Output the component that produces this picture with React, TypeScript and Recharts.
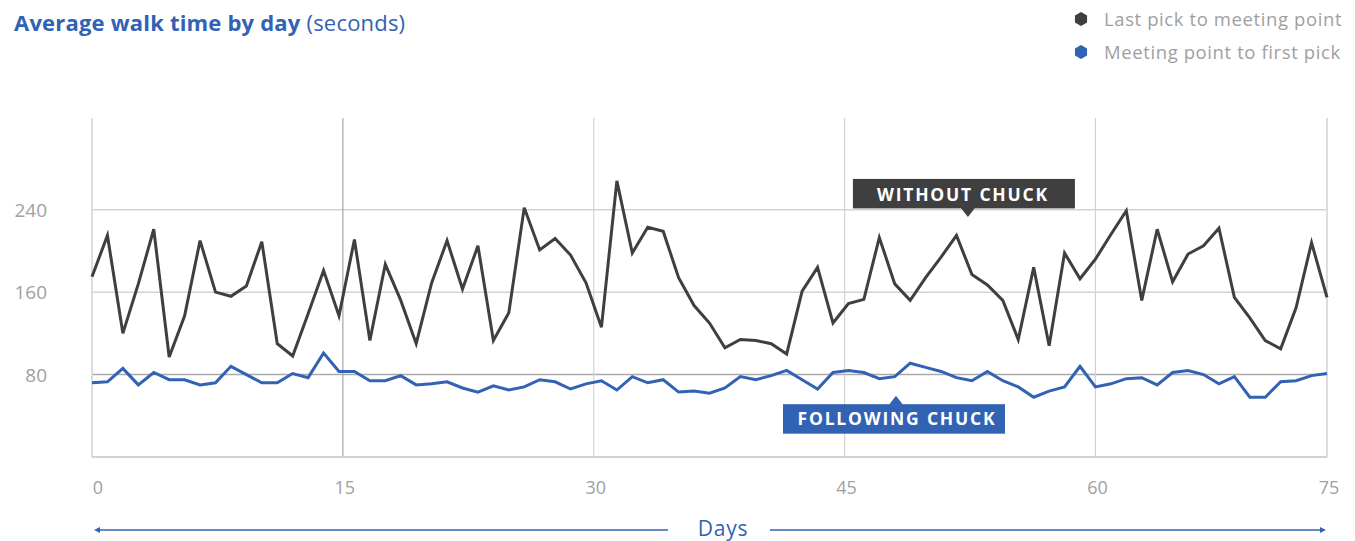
import React from 'react';
import { LineChart, Line, XAxis, YAxis, ReferenceLine, ReferenceDot } from 'recharts';

// seconds per day
const withoutChuck = [
  175, 215, 120, 168, 221, 97, 137, 210, 160, 156, 166, 209, 110, 98, 139, 181, 137, 211, 113, 187,
  152, 110, 169, 210, 163, 205, 113, 140, 242, 201, 212, 196, 169, 126, 268, 198, 223, 219, 174, 147,
  130, 106, 114, 113, 110, 100, 161, 184, 130, 149, 153, 213, 168, 152, 174, 194, 215, 177, 167, 152,
  114, 184, 108, 198, 173, 192, 216, 239, 152, 221, 170, 197, 205, 222, 155, 135, 113, 105, 145, 208,
  155,
];
const followingChuck = [
  72, 73, 86, 70, 82, 75, 75, 70, 72, 88, 80, 72, 72, 81, 77, 101, 83, 83, 74, 74,
  79, 70, 71, 73, 67, 63, 69, 65, 68, 75, 73, 66, 71, 74, 65, 78, 72, 75, 63, 64,
  62, 67, 78, 75, 79, 84, 75, 66, 82, 84, 82, 76, 78, 91, 87, 83, 77, 74, 83, 74,
  68, 58, 64, 68, 88, 68, 71, 76, 77, 70, 82, 84, 80, 71, 78, 58, 58, 73, 74, 79,
  81,
];
const xTickPos = [0, 16.25, 32.5, 48.75, 65, 80];
const xTickLabels = ['0', '15', '30', '45', '60', '75'];
const yTicks = [80, 160, 240];
const seriesNames = ['Last pick to meeting point', 'Meeting point to first pick'];

const DARK = '#3f3f40';
const BLUE = '#3162b3';
const GRAY_TEXT = '#a0a0a0';
const FONT = '"Open Sans", sans-serif';

const data = withoutChuck.map((v, i) => ({ i, without: v, following: followingChuck[i] }));

const XTick = (props: any) => {
  const { x, payload, index } = props;
  const label = xTickLabels[xTickPos.indexOf(payload.value)];
  return (
    <text x={index === 0 ? x + 6 : x + 2} y={494} textAnchor="middle" fontSize={18} fill={GRAY_TEXT} fontFamily={FONT}>
      {label}
    </text>
  );
};

const YTick = (props: any) => {
  const { y, payload } = props;
  return (
    <text x={47} y={y + 7} textAnchor="end" fontSize={19} fill={GRAY_TEXT} fontFamily={FONT}>
      {payload.value}
    </text>
  );
};

const DaysLabel = () => (
  <g>
    <line x1={98} y1={530} x2={668} y2={530} stroke={BLUE} strokeWidth={1.3} />
    <line x1={770} y1={530} x2={1322} y2={530} stroke={BLUE} strokeWidth={1.3} />
    <polygon points="94,530 100,527 100,533" fill={BLUE} />
    <polygon points="1326,530 1320,527 1320,533" fill={BLUE} />
    <text x={723} y={536} textAnchor="middle" fontSize={21} letterSpacing={0.8} fill={BLUE} fontFamily={FONT}>
      Days
    </text>
  </g>
);

const WithoutCallout = (props: any) => {
  const { cx, cy } = props;
  return (
    <g>
      <rect x={cx - 115} y={cy - 38} width={222} height={29.5} fill={DARK} />
      <polygon points={`${cx - 7},${cy - 9} ${cx + 7},${cy - 9} ${cx},${cy}`} fill={DARK} />
      <text x={cx - 5} y={cy - 16} textAnchor="middle" fontSize={17.5} letterSpacing={1.8} fontWeight={700} fill="#fff" fontFamily={FONT}>
        WITHOUT CHUCK
      </text>
    </g>
  );
};

const FollowingCallout = (props: any) => {
  const { cx, cy } = props;
  return (
    <g>
      <rect x={cx - 113} y={cy + 8.5} width={222} height={29.5} fill={BLUE} />
      <polygon points={`${cx - 7},${cy + 9} ${cx + 7},${cy + 9} ${cx},${cy}`} fill={BLUE} />
      <text x={cx + 1} y={cy + 29} textAnchor="middle" fontSize={17.5} letterSpacing={1.8} fontWeight={700} fill="#fff" fontFamily={FONT}>
        FOLLOWING CHUCK
      </text>
    </g>
  );
};

const hexagon = (cx: number, cy: number, r: number) =>
  [0, 1, 2, 3, 4, 5]
    .map((k) => {
      const a = ((60 * k - 90) * Math.PI) / 180;
      return `${cx + r * Math.cos(a)},${cy + r * Math.sin(a)}`;
    })
    .join(' ');

export default function App() {
  return (
    <div style={{ position: 'absolute', left: 0, top: 0, width: 1355, height: 541, background: '#fff' }}>
      <LineChart width={1355} height={541} data={data} margin={{ top: 118, right: 28, bottom: 0, left: 0 }}>
        <XAxis
          type="number"
          dataKey="i"
          domain={[0, 80]}
          ticks={xTickPos}
          interval={0}
          height={84}
          axisLine={{ stroke: '#d2d2d2', strokeWidth: 2 }}
          tickLine={false}
          tick={<XTick />}
          label={<DaysLabel />}
        />
        <YAxis
          type="number"
          domain={[0, 329]}
          ticks={yTicks}
          width={92}
          axisLine={false}
          tickLine={false}
          tick={<YTick />}
        />
        <ReferenceLine y={240} stroke="#d3d3d3" strokeWidth={1.5} />
        <ReferenceLine y={160} stroke="#d3d3d3" strokeWidth={1.5} />
        <ReferenceLine y={80} stroke="#aaaaaa" strokeWidth={1.5} />
        <ReferenceLine x={0} stroke="#dddddd" strokeWidth={2} />
        <ReferenceLine x={16.25} stroke="#a5a5a5" strokeWidth={1.2} />
        <ReferenceLine x={32.5} stroke="#d3d3d3" strokeWidth={1.2} />
        <ReferenceLine x={48.75} stroke="#d3d3d3" strokeWidth={1.2} />
        <ReferenceLine x={65} stroke="#d3d3d3" strokeWidth={1.2} />
        <ReferenceLine x={80} stroke="#dddddd" strokeWidth={2} />
        <Line
          type="linear"
          dataKey="without"
          name={seriesNames[0]}
          stroke={DARK}
          strokeWidth={3}
          dot={false}
          isAnimationActive={false}
        />
        <Line
          type="linear"
          dataKey="following"
          name={seriesNames[1]}
          stroke={BLUE}
          strokeWidth={3}
          dot={false}
          isAnimationActive={false}
        />
        <ReferenceDot x={56.74} y={233} r={0} shape={(p: any) => <WithoutCallout {...p} />} />
        <ReferenceDot x={52.08} y={59.5} r={0} shape={(p: any) => <FollowingCallout {...p} />} />
      </LineChart>
      <svg width={1355} height={80} style={{ position: 'absolute', left: 0, top: 0 }}>
        <text x={14} y={31} fontSize={22} letterSpacing={0.2} fill={BLUE} fontFamily={FONT}>
          <tspan fontWeight={700}>Average walk time by day</tspan>
          <tspan> (seconds)</tspan>
        </text>
        {seriesNames.map((name, k) => (
          <g key={name}>
            <polygon points={hexagon(1081, 19 + k * 33, 7)} fill={k === 0 ? DARK : BLUE} />
            <text x={1104} y={26 + k * 33} fontSize={18.5} letterSpacing={0.6} fill={GRAY_TEXT} fontFamily={FONT}>
              {name}
            </text>
          </g>
        ))}
      </svg>
    </div>
  );
}
